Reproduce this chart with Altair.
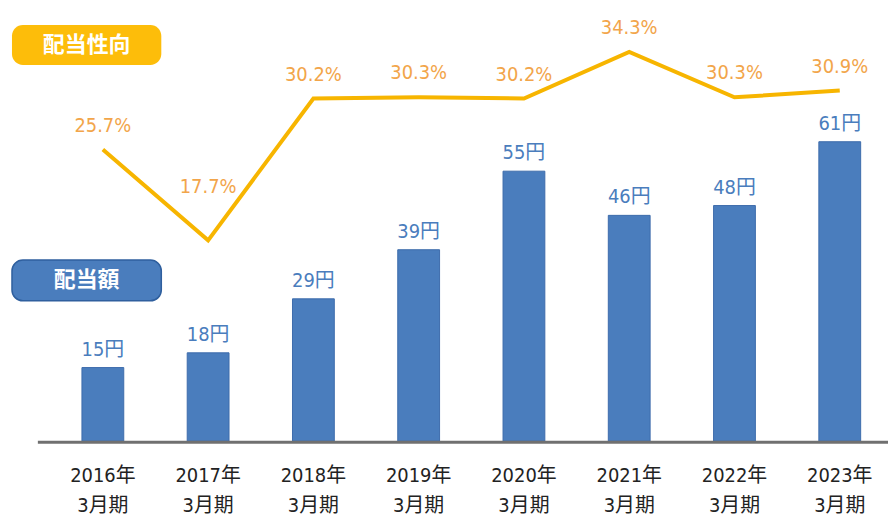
import altair as alt
import pandas as pd

years = ["2016年", "2017年", "2018年", "2019年", "2020年", "2021年", "2022年", "2023年"]
period = "3月期"
dividends = [15, 18, 29, 39, 55, 46, 48, 61]
ratios = [25.7, 17.7, 30.2, 30.3, 30.2, 34.3, 30.3, 30.9]

df = pd.DataFrame({
    "idx": list(range(len(years))),
    "year": years,
    "dividend": dividends,
    "ratio": ratios,
})
df["xlabel"] = df["year"] + "\n" + period
df["div_label"] = df["dividend"].astype(str) + "円"
df["ratio_label"] = df["ratio"].map(lambda v: f"{v:.1f}%")

W, H = 854, 434
FONT = "DejaVu Sans Condensed, Liberation Sans Narrow, Noto Sans CJK JP, sans-serif"
BLUE = "#4a7dbd"
GOLD = "#f7b500"
ORANGE = "#f2a54a"

x = alt.X("idx:Q", scale=alt.Scale(domain=[-0.570, 7.411], nice=False, zero=False), axis=None)
base = alt.Chart(df).encode(x=x)

ydiv = alt.Y("dividend:Q", scale=alt.Scale(domain=[0, 88], nice=False), axis=None)
bars = base.mark_bar(size=42, color=BLUE, stroke="#3d6cab", strokeWidth=1).encode(y=ydiv)
bar_labels = base.mark_text(font=FONT, fontSize=20, color="#4a7dbd", baseline="alphabetic", dy=-12).encode(
    y=ydiv, text="div_label:N")

yr = alt.Y("ratio:Q", scale=alt.Scale(domain=[0, 38.07], nice=False), axis=None)
line = base.mark_line(color=GOLD, strokeWidth=4).encode(y=yr)
ratio_labels = base.transform_filter("datum.idx != 1").mark_text(
    font=FONT, fontSize=20, color=ORANGE, baseline="middle", dy=-24).encode(y=yr, text="ratio_label:N")
ratio_labels_low = base.transform_filter("datum.idx == 1").mark_text(
    font=FONT, fontSize=20, color=ORANGE, baseline="middle", dy=-54).encode(y=yr, text="ratio_label:N")

xlabels = base.mark_text(font=FONT, fontSize=20, color="#222222", baseline="top", lineBreak="\n",
                         lineHeight=30).encode(y=alt.value(H + 25), text="xlabel:N")

baseline = alt.Chart(pd.DataFrame({"a": [0]})).mark_rule(color="#707070", strokeWidth=3).encode(
    x=alt.value(0), x2=alt.value(W), y=alt.value(H + 1))

badges = pd.DataFrame({"t": ["配当性向", "配当額"]})
badge1 = alt.Chart(badges.iloc[[0]]).mark_rect(color="#fdbd0a", cornerRadius=11).encode(
    x=alt.value(-26), x2=alt.value(124), y=alt.value(16), y2=alt.value(56))
badge1_t = alt.Chart(badges.iloc[[0]]).mark_text(font="Noto Sans CJK JP", fontSize=22, fontWeight="bold",
                                                  color="white", baseline="middle").encode(
    x=alt.value(49), y=alt.value(36), text="t:N")
badge2 = alt.Chart(badges.iloc[[1]]).mark_rect(color="#4a7dbd", stroke="#2f5f9e", strokeWidth=1.5,
                                                cornerRadius=11).encode(
    x=alt.value(-26), x2=alt.value(124), y=alt.value(252), y2=alt.value(293))
badge2_t = alt.Chart(badges.iloc[[1]]).mark_text(font="Noto Sans CJK JP", fontSize=22, fontWeight="bold",
                                                  color="white", baseline="middle").encode(
    x=alt.value(49), y=alt.value(272.5), text="t:N")

chart = alt.layer(
    alt.layer(bars, bar_labels),
    alt.layer(line, ratio_labels, ratio_labels_low),
    xlabels, baseline, badge1, badge1_t, badge2, badge2_t,
).resolve_scale(y="independent").properties(
    width=W, height=H,
    autosize=alt.AutoSizeParams(type="none"),
    padding={"left": 30, "top": 0, "right": 0, "bottom": 80},
).configure_view(stroke=None)

chart.save("out.html", embed_options={"renderer": "svg", "actions": False})
